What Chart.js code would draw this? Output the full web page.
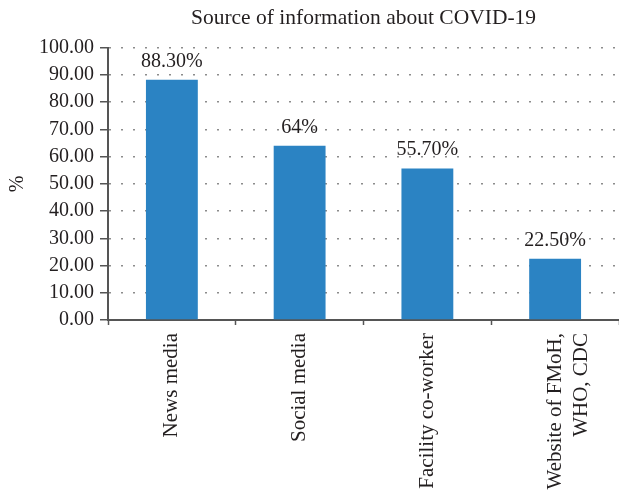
<!DOCTYPE html>
<html>
<head>
<meta charset="utf-8">
<script src="https://cdn.jsdelivr.net/npm/chart.js@4"></script>
<style>
    html, body { margin: 0; padding: 0; background: #fff; }
    #wrap { width: 619px; height: 494px; }
</style>
</head>
<body>
<div id="wrap"><canvas id="sourceChart"></canvas></div>
<script>
// Chart data
const categories = ['News media', 'Social media', 'Facility co-worker', ['Website of FMoH,', 'WHO, CDC']];
const percentValues = [88.3, 64, 55.7, 22.5];
const valueLabels = ['88.30%', '64%', '55.70%', '22.50%'];
const yTicks = [0, 10, 20, 30, 40, 50, 60, 70, 80, 90, 100];

const FONT = "'Liberation Serif', 'Times New Roman', serif";
const TEXT = '#231f20';
const AXIS = '#555555';

// Draw the percentage above every bar (no datalabels plugin offline)
const barLabels = {
    id: 'barLabels',
    afterDatasetsDraw(chart) {
        const ctx = chart.ctx;
        const meta = chart.getDatasetMeta(0);
        ctx.save();
        ctx.font = '20px ' + FONT;
        ctx.fillStyle = TEXT;
        ctx.textAlign = 'center';
        ctx.textBaseline = 'alphabetic';
        meta.data.forEach((bar, i) => {
            ctx.fillText(valueLabels[i], bar.x, bar.y - 13);
        });
        ctx.restore();
    }
};

Chart.defaults.font.family = FONT;
Chart.defaults.color = TEXT;

new Chart(document.getElementById('sourceChart').getContext('2d'), {
    type: 'bar',
    data: {
        labels: categories,
        datasets: [{
            data: percentValues,
            backgroundColor: '#2b83c3',
            borderWidth: 0,
            categoryPercentage: 1,
            barPercentage: 0.406
        }]
    },
    options: {
        responsive: true,
        maintainAspectRatio: false,
        animation: false,
        layout: { padding: 0 },
        plugins: {
            legend: { display: false },
            tooltip: { enabled: false },
            title: {
                display: true,
                text: 'Source of information about COVID-19',
                fullSize: false,
                color: TEXT,
                font: { size: 21.5, weight: 'normal', family: FONT },
                padding: { top: 5, bottom: 17 }
            }
        },
        scales: {
            x: {
                offset: true,
                grid: {
                    display: true,
                    drawOnChartArea: false,
                    offset: true,
                    tickLength: 5,
                    tickColor: AXIS,
                    tickWidth: 1.5
                },
                border: { color: AXIS, width: 2 },
                ticks: {
                    color: TEXT,
                    font: { size: 21, family: FONT, lineHeight: 1.25 },
                    minRotation: 90,
                    maxRotation: 90,
                    autoSkip: false,
                    padding: 8
                },
                afterFit(scale) { scale.height = 174; }
            },
            y: {
                min: 0,
                max: 100,
                afterBuildTicks(scale) { scale.ticks = yTicks.map(v => ({ value: v })); },
                grid: {
                    color: '#8c8c8c',
                    lineWidth: 1.5,
                    tickLength: 8,
                    tickColor: AXIS,
                    tickWidth: 1.5,
                    tickBorderDash: []
                },
                border: { color: AXIS, width: 2, dash: [2, 10] },
                ticks: {
                    color: TEXT,
                    font: { size: 20, family: FONT },
                    padding: 6,
                    callback: v => Number(v).toFixed(2)
                },
                title: {
                    display: true,
                    text: '%',
                    color: TEXT,
                    font: { size: 20, family: FONT },
                    padding: { top: 6, bottom: 0 }
                },
                afterFit(scale) { scale.width = 108; }
            }
        }
    },
    plugins: [barLabels]
});
</script>
</body>
</html>
